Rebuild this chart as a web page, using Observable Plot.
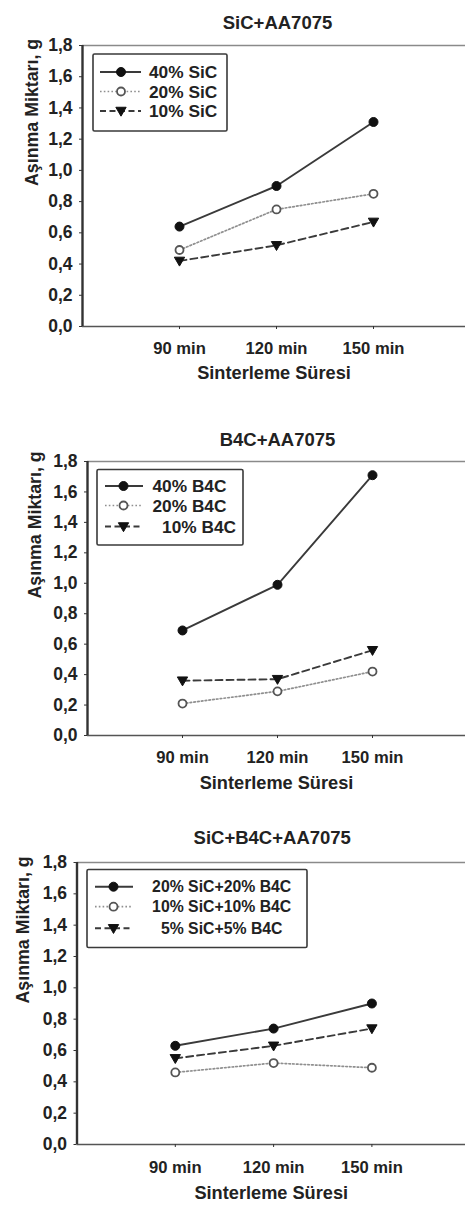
<!DOCTYPE html>
<html>
<head>
<meta charset="utf-8">
<script src="https://cdn.jsdelivr.net/npm/d3@7"></script>
<script src="https://cdn.jsdelivr.net/npm/@observablehq/plot@0.6"></script>
<style>
  html, body { margin: 0; padding: 0; background: #fff; }
  #root { width: 465px; overflow: hidden; }
  #root svg { display: block; }
</style>
</head>
<body>
<div id="root"></div>
<script>
// ---- data ----
const categories = ["90 min", "120 min", "150 min"];
const yTicks = [0, 0.2, 0.4, 0.6, 0.8, 1.0, 1.2, 1.4, 1.6, 1.8];
const yTickLabels = ["0,0", "0,2", "0,4", "0,6", "0,8", "1,0", "1,2", "1,4", "1,6", "1,8"];
const xLabel = "Sinterleme Süresi";
const yLabel = "Aşınma Miktarı, g";

const titles = ["SiC+AA7075", "B4C+AA7075", "SiC+B4C+AA7075"];

const sicNames = ["40% SiC", "20% SiC", "10% SiC"];
const sic40 = [0.64, 0.90, 1.31];
const sic20 = [0.49, 0.75, 0.85];
const sic10 = [0.42, 0.52, 0.67];

const b4cNames = ["40% B4C", "20% B4C", "\u00a0\u00a010% B4C"];
const b4c40 = [0.69, 0.99, 1.71];
const b4c20 = [0.21, 0.29, 0.42];
const b4c10 = [0.36, 0.37, 0.56];

const hybNames = ["20% SiC+20% B4C", "10% SiC+10% B4C", "5% SiC+5% B4C"];
const hyb20 = [0.63, 0.74, 0.90];
const hyb10 = [0.46, 0.52, 0.49];
const hyb5 = [0.55, 0.63, 0.74];

// ---- styles ----
const FONT = "'Liberation Sans', Arial, Helvetica, sans-serif";
const triangleDown = {
  draw(context, size) {
    const s = Math.sqrt(size);
    const w = s * 0.62, h1 = s * 0.45, h2 = s * 0.62;
    context.moveTo(-w, -h1);
    context.lineTo(w, -h1);
    context.lineTo(0, h2);
    context.closePath();
  }
};
const seriesStyles = [
  {stroke: "#3a3a3a", strokeWidth: 1.9, dash: null, symbol: "circle", fill: "#111", mstroke: "#111", r: 4.5},
  {stroke: "#8f8f8f", strokeWidth: 1.7, dash: "1.6,2.2", symbol: "circle", fill: "#fff", mstroke: "#555", r: 4},
  {stroke: "#3a3a3a", strokeWidth: 1.9, dash: "7,4", symbol: triangleDown, fill: "#111", mstroke: "#111", r: 4.7}
];

const panels = [
  {title: titles[0], names: sicNames, series: [sic40, sic20, sic10], height: 400,
   marginTop: 45, marginBottom: 74, marginLeft: 82, unit: 97,
   titleDy: -30, titleDx: 3.5, yLabelDx: -50, xTickPad: 13, xLabelDy: 52,
   legend: {x0: 93, x1: 227, y0: 54, y1: 131, rows: [72, 91.5, 111], s0: 100, s1: 141, m: 121, tx: 149, anchor: "start", fs: 17.3}},
  {title: titles[1], names: b4cNames, series: [b4c40, b4c20, b4c10], height: 400,
   marginTop: 61, marginBottom: 65, marginLeft: 87, unit: 95,
   titleDy: -29, titleDx: 1, yLabelDx: -52, xTickPad: 13, xLabelDy: 53,
   legend: {x0: 97, x1: 243, y0: 69.5, y1: 145, rows: [86, 105.5, 126.5], s0: 105, s1: 143, m: 123.5, tx: 152.5, anchor: "start", fs: 17.3}},
  {title: titles[2], names: hybNames, series: [hyb20, hyb10, hyb5], height: 412,
   marginTop: 62, marginBottom: 68, marginLeft: 76.5, unit: 98.3,
   titleDy: -32, titleDx: 1, yLabelDx: -53.5, xTickPad: 14, xLabelDy: 54,
   legend: {x0: 87, x1: 307, y0: 69.5, y1: 147.5, rows: [86.7, 106.7, 128.3], s0: 95, s1: 133, m: 113.5, tx: 221.7, anchor: "middle", fs: 15.8}}
];

const root = document.getElementById("root");

panels.forEach(p => {
  const W = 465;
  const xMax = (W - p.marginLeft) / p.unit;
  const marks = [];
  // frame pieces
  marks.push(Plot.ruleY([1.8], {stroke: "#8a8a8a", strokeWidth: 1.5}));
  marks.push(Plot.ruleY([0], {stroke: "#555", strokeWidth: 1.6}));
  marks.push(Plot.ruleX([0], {stroke: "#333", strokeWidth: 2.4}));
  marks.push(Plot.axisY({
    ticks: yTicks,
    tickFormat: d => yTickLabels[yTicks.findIndex(t => Math.abs(t - d) < 1e-9)],
    tickSize: 3, tickPadding: 7, label: null, stroke: "#333",
    fontSize: 17.5, fontWeight: "bold", fill: "#222"
  }));
  marks.push(Plot.axisX({
    ticks: categories.map((c, i) => i + 1),
    tickFormat: d => categories[d - 1],
    tickSize: 3, tickPadding: p.xTickPad, label: null, stroke: "#333",
    fontSize: 16.6, fontWeight: "bold", fill: "#222"
  }));
  p.series.forEach((vals, k) => {
    const st = seriesStyles[k];
    const rows = categories.map((c, i) => ({x: i + 1, y: vals[i]}));
    marks.push(Plot.line(rows, {x: "x", y: "y", stroke: st.stroke, strokeWidth: st.strokeWidth,
      strokeDasharray: st.dash || undefined}));
    marks.push(Plot.dot(rows, {x: "x", y: "y", symbol: st.symbol, r: st.r, fill: st.fill,
      stroke: st.mstroke, strokeWidth: k === 1 ? 1.8 : 1}));
  });
  marks.push(Plot.text([p.title], {frameAnchor: "top", dy: p.titleDy, dx: p.titleDx,
    fontSize: 18.5, fontWeight: "bold", fill: "#222"}));
  marks.push(Plot.text([yLabel], {frameAnchor: "left", rotate: -90, dx: p.yLabelDx,
    fontSize: 17.8, fontWeight: "bold", fill: "#222"}));
  marks.push(Plot.text([xLabel], {frameAnchor: "bottom", dy: p.xLabelDy,
    fontSize: 18.2, fontWeight: "bold", fill: "#222"}));

  const svg = Plot.plot({
    width: W, height: p.height,
    marginTop: p.marginTop, marginBottom: p.marginBottom, marginLeft: p.marginLeft, marginRight: 0,
    x: {domain: [0, xMax]},
    y: {domain: [0, 1.8]},
    style: {fontFamily: FONT, background: "#fff", color: "#222"},
    marks
  });

  // legend box
  const L = p.legend;
  const g = d3.select(svg).append("g");
  g.append("rect").attr("x", L.x0).attr("y", L.y0).attr("width", L.x1 - L.x0).attr("height", L.y1 - L.y0)
    .attr("fill", "#fff").attr("stroke", "#3a3a3a").attr("stroke-width", 1.6).attr("rx", 1.5);
  p.names.forEach((name, k) => {
    const st = seriesStyles[k];
    const y = L.rows[k];
    g.append("line").attr("x1", L.s0).attr("x2", L.s1).attr("y1", y).attr("y2", y)
      .attr("stroke", st.stroke).attr("stroke-width", st.strokeWidth)
      .attr("stroke-dasharray", st.dash ? (k === 2 ? "6,3.5" : st.dash) : null);
    const sym = d3.symbol().type(st.symbol === "circle" ? d3.symbolCircle : st.symbol)
      .size(Math.PI * st.r * st.r);
    g.append("path").attr("d", sym()).attr("transform", `translate(${L.m},${y})`)
      .attr("fill", st.fill).attr("stroke", st.mstroke).attr("stroke-width", k === 1 ? 1.8 : 1);
    g.append("text").attr("x", L.tx).attr("y", y).attr("dy", "0.36em")
      .attr("text-anchor", L.anchor).attr("font-size", L.fs).attr("font-weight", "bold")
      .attr("fill", "#222").attr("font-family", FONT).text(name);
  });
  root.appendChild(svg);
});
</script>
</body>
</html>
